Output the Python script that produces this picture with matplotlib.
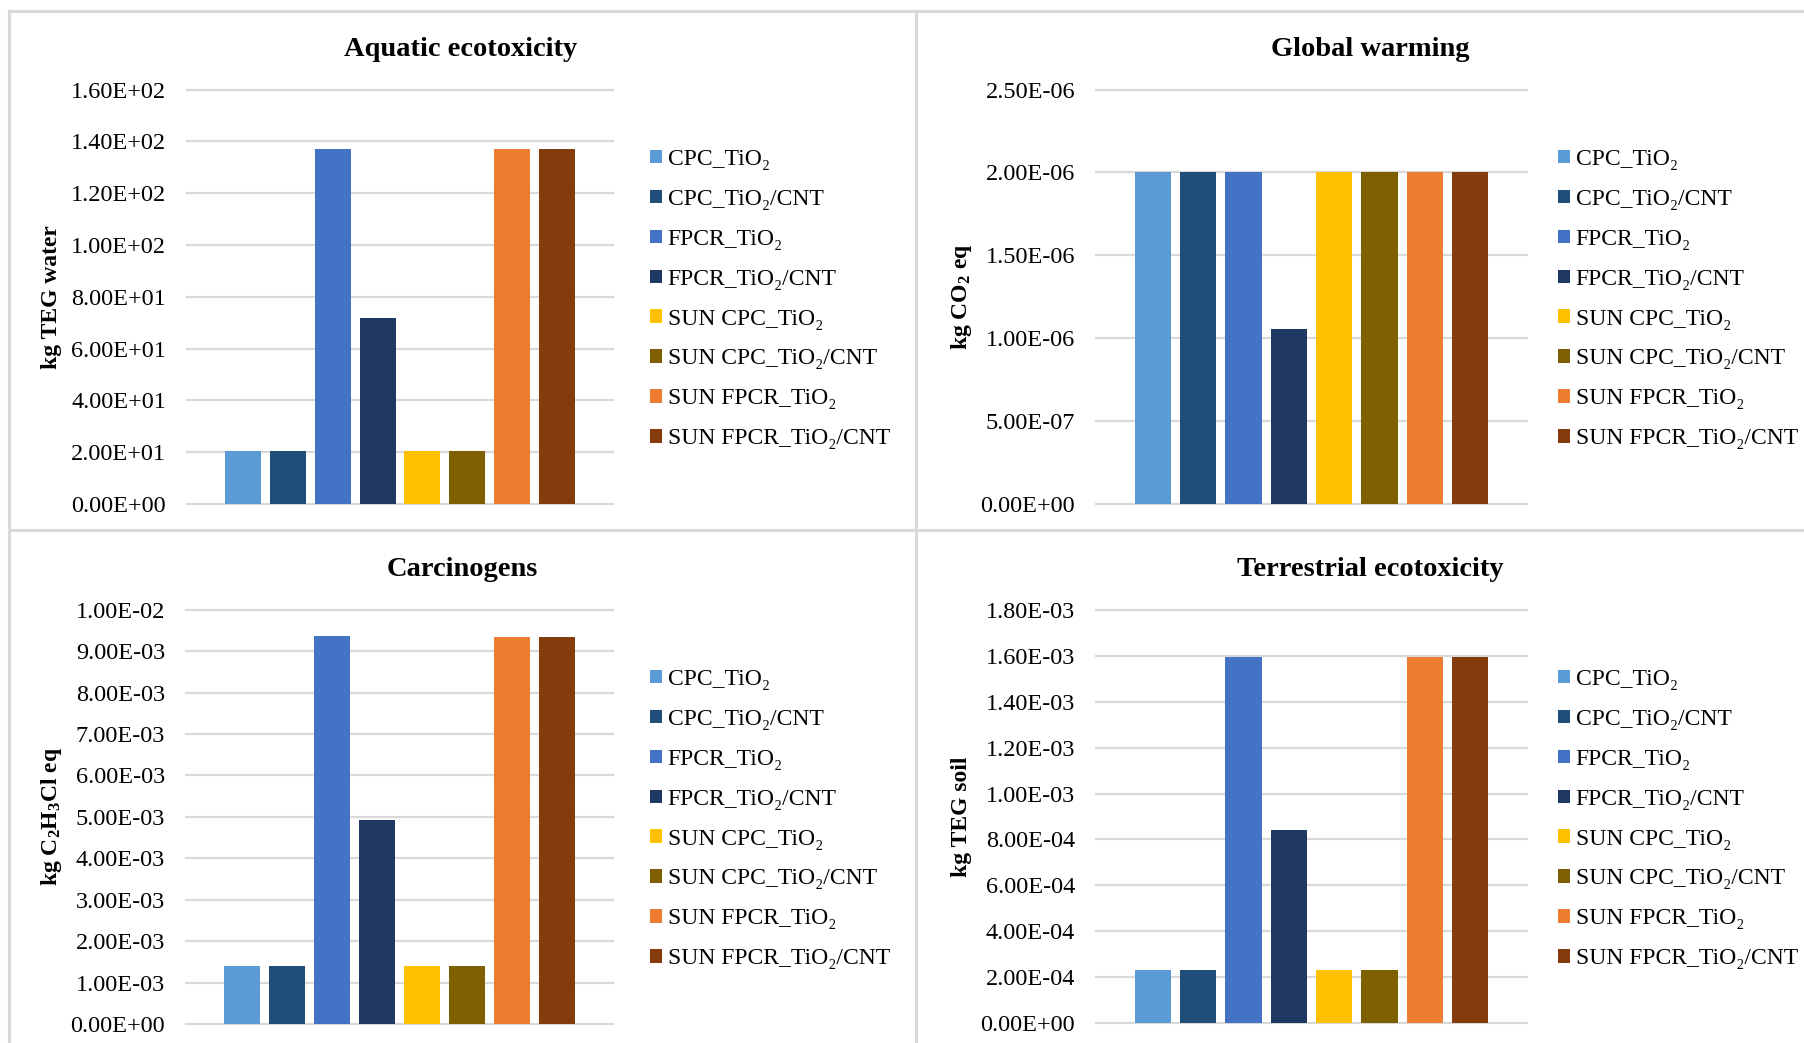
import matplotlib
matplotlib.use("Agg")
import matplotlib.pyplot as plt
from matplotlib.ticker import FixedLocator, FuncFormatter
from matplotlib.lines import Line2D
from matplotlib.patches import Patch

# ---------------- data ----------------
series = ["CPC_TiO\u2082", "CPC_TiO\u2082/CNT", "FPCR_TiO\u2082", "FPCR_TiO\u2082/CNT",
          "SUN CPC_TiO\u2082", "SUN CPC_TiO\u2082/CNT", "SUN FPCR_TiO\u2082", "SUN FPCR_TiO\u2082/CNT"]
colors = ["#5B9BD5", "#1F4E79", "#4472C4", "#203864",
          "#FFC000", "#7F6000", "#ED7D31", "#843C0C"]

aquatic = [20.3, 20.3, 137.0, 72.0, 20.3, 20.3, 137.0, 137.0]
global_warming = [2.0e-6, 2.0e-6, 2.0e-6, 1.055e-6, 2.0e-6, 2.0e-6, 2.0e-6, 2.0e-6]
carcinogens = [1.41e-3, 1.41e-3, 9.36e-3, 4.92e-3, 1.41e-3, 1.41e-3, 9.33e-3, 9.33e-3]
terrestrial = [2.31e-4, 2.31e-4, 1.595e-3, 8.40e-4, 2.31e-4, 2.31e-4, 1.595e-3, 1.595e-3]

titles = ["Aquatic ecotoxicity", "Global warming", "Carcinogens", "Terrestrial ecotoxicity"]
ylabels = ["kg TEG water", r"kg CO$_\mathbf{2}$ eq", r"kg C$_\mathbf{2}$H$_\mathbf{3}$Cl eq", "kg TEG soil"]
ymax = [160, 2.5e-6, 1.0e-2, 1.8e-3]
ystep = [20, 5e-7, 1e-3, 2e-4]
values = [aquatic, global_warming, carcinogens, terrestrial]

# ---------------- style ----------------
plt.rcParams["font.family"] = ["Liberation Serif", "DejaVu Serif"]
plt.rcParams["mathtext.fontset"] = "custom"
plt.rcParams["mathtext.rm"] = "Liberation Serif"
plt.rcParams["mathtext.bf"] = "Liberation Serif:bold"
plt.rcParams["mathtext.it"] = "Liberation Serif:italic"

W, H = 1804, 1043
fig = plt.figure(figsize=(W / 100, H / 100), dpi=100)
fig.patch.set_facecolor("white")

GRID = "#D9D9D9"

# panel layout in pixels: (x0, x1, ytop, ybot), title center (x, y), legend anchor (x, y), ylabel x
panels = [
    dict(ax=(187, 613, 89.6, 504), title=(461, 49), leg=(650, 149), ylab=52),
    dict(ax=(1096, 1527, 89.6, 504), title=(1370, 49), leg=(1558, 149), ylab=962),
    dict(ax=(186, 613, 609.7, 1024), title=(462, 569), leg=(650, 669), ylab=52),
    dict(ax=(1096, 1527, 610, 1023), title=(1370, 569), leg=(1558, 669), ylab=962),
]

def fmt(v, pos):
    return "{:.2E}".format(v)

for i, p in enumerate(panels):
    x0, x1, yt, yb = p["ax"]
    ax = fig.add_axes([x0 / W, 1 - yb / H, (x1 - x0) / W, (yb - yt) / H])
    xs = list(range(len(series)))
    ax.bar(xs, values[i], width=0.8, color=colors, zorder=3, linewidth=0)
    ax.set_xlim(-1.25, 8.25)
    ax.set_ylim(0, ymax[i])
    n = int(round(ymax[i] / ystep[i]))
    ax.yaxis.set_major_locator(FixedLocator([k * ystep[i] for k in range(n + 1)]))
    ax.yaxis.set_major_formatter(FuncFormatter(fmt))
    ax.set_xticks([])
    ax.tick_params(axis="y", length=0, pad=15, labelsize=17.5, labelcolor="black")
    for s in ax.spines.values():
        s.set_visible(False)
    ax.grid(axis="y", color=GRID, linewidth=1.6, zorder=0)
    ax.set_axisbelow(True)
    for gl in ax.get_ygridlines():
        gl.set_clip_on(False)
    ax.set_facecolor("none")

    # y label
    ax.set_ylabel(ylabels[i], fontsize=17, fontweight="bold", va="center", ha="center")
    ax.yaxis.set_label_coords((p["ylab"] - x0) / (x1 - x0), 0.5)

    # title
    fig.text(p["title"][0] / W, 1 - p["title"][1] / H, titles[i], fontsize=20.5,
             fontweight="bold", ha="center", va="center")

    # legend
    handles = [Patch(facecolor=c, edgecolor="none") for c in colors]
    lx, ly = p["leg"]
    ax.legend(handles, series, loc="upper left", bbox_to_anchor=(lx / W, 1 - ly / H),
              bbox_transform=fig.transFigure, frameon=False, fontsize=17,
              borderaxespad=0, borderpad=0, handlelength=0.5, handleheight=0.5,
              handletextpad=0.25, labelspacing=0.80)

# panel borders
def hline(y, xa, xb):
    fig.add_artist(Line2D([xa / W, xb / W], [1 - y / H, 1 - y / H], color=GRID, linewidth=2.2,
                          transform=fig.transFigure))

def vline(x, ya, yb):
    fig.add_artist(Line2D([x / W, x / W], [1 - ya / H, 1 - yb / H], color=GRID, linewidth=2.2,
                          transform=fig.transFigure))

hline(11, 9, W)
hline(530, 9, W)
vline(9, 11, H)
vline(916, 11, H)

fig.savefig("out.png", dpi=100, facecolor="white")
